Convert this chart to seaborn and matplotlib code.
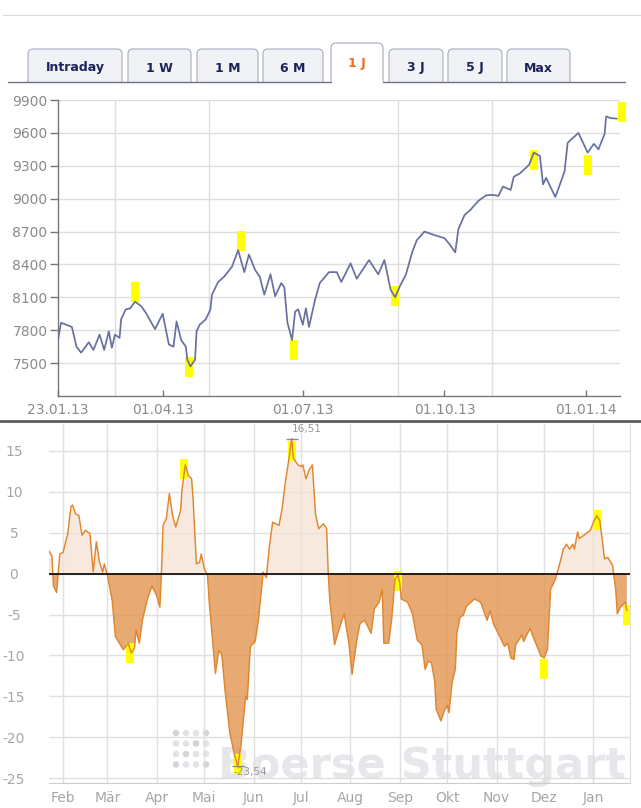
import numpy as np
import pandas as pd
import matplotlib
matplotlib.use("Agg")
import matplotlib.pyplot as plt
import matplotlib.dates as mdates
from matplotlib.patches import FancyBboxPatch, Rectangle
from matplotlib.lines import Line2D
from matplotlib.transforms import IdentityTransform
import seaborn as sns

# ---------------- data ----------------
tab_labels = ["Intraday", "1 W", "1 M", "6 M", "1 J", "3 J", "5 J", "Max"]
active_tab = "1 J"

price_dates = ["2013-01-23","2013-01-25","2013-02-01","2013-02-04","2013-02-07","2013-02-12","2013-02-15","2013-02-19","2013-02-22","2013-02-25",
               "2013-02-27","2013-03-01","2013-03-04","2013-03-05","2013-03-08","2013-03-11","2013-03-14","2013-03-18","2013-03-21","2013-03-27",
               "2013-04-01","2013-04-05","2013-04-08","2013-04-10","2013-04-13","2013-04-16","2013-04-17","2013-04-19","2013-04-22","2013-04-23",
               "2013-04-25","2013-04-29","2013-05-02","2013-05-03","2013-05-07","2013-05-11","2013-05-16","2013-05-20","2013-05-24","2013-05-27",
               "2013-05-31","2013-06-03","2013-06-06","2013-06-10","2013-06-13","2013-06-17","2013-06-19","2013-06-21","2013-06-24","2013-06-26",
               "2013-06-28","2013-07-01","2013-07-03","2013-07-05","2013-07-09","2013-07-12","2013-07-18","2013-07-23","2013-07-26","2013-08-01",
               "2013-08-05","2013-08-13","2013-08-19","2013-08-23","2013-08-27","2013-08-30","2013-09-02","2013-09-06","2013-09-10","2013-09-13",
               "2013-09-18","2013-09-24","2013-10-01","2013-10-04","2013-10-08","2013-10-10","2013-10-14","2013-10-18","2013-10-23","2013-10-28",
               "2013-11-01","2013-11-05","2013-11-08","2013-11-13","2013-11-15","2013-11-19","2013-11-25","2013-11-28","2013-12-02","2013-12-04",
               "2013-12-06","2013-12-12","2013-12-16","2013-12-18","2013-12-20","2013-12-27","2014-01-02","2014-01-06","2014-01-09","2014-01-13",
               "2014-01-14","2014-01-17","2014-01-21"]
price_values = [7714, 7868, 7830, 7650, 7595, 7690, 7620, 7760, 7620, 7790,
                7640, 7760, 7730, 7900, 7990, 8000, 8060, 8020, 7960, 7810,
                7950, 7670, 7650, 7880, 7710, 7650, 7530, 7470, 7530, 7790,
                7850, 7900, 7990, 8125, 8240, 8290, 8380, 8530, 8330, 8490,
                8350, 8290, 8125, 8310, 8110, 8230, 8190, 7870, 7710, 7970,
                7990, 7850, 8000, 7830, 8080, 8230, 8330, 8330, 8240, 8410,
                8270, 8440, 8310, 8440, 8170, 8100, 8200, 8310, 8510, 8620,
                8700, 8670, 8640, 8590, 8510, 8720, 8850, 8900, 8980, 9030,
                9035, 9025, 9110, 9080, 9200, 9230, 9310, 9420, 9390, 9130,
                9190, 9015, 9170, 9250, 9510, 9600, 9420, 9500, 9450, 9590,
                9750, 9735, 9730]
price_signal_dates = ["2013-03-14", "2013-04-18", "2013-05-22", "2013-06-25",
                      "2013-08-30", "2013-11-28", "2014-01-02", "2014-01-24"]
price_signal_values = [8150, 7460, 8610, 7620, 8110, 9350, 9310, 9790]
price_yticks = [7500, 7800, 8100, 8400, 8700, 9000, 9300, 9600, 9900]
price_xtick_dates = ["2013-01-23", "2013-04-01", "2013-07-01", "2013-10-01", "2014-01-01"]
price_xtick_labels = ["23.01.13", "01.04.13", "01.07.13", "01.10.13", "01.01.14"]
price_grid_dates = ["2013-03-01", "2013-05-01", "2013-07-01", "2013-09-01", "2013-11-01", "2014-01-01"]

osc_start = "2013-01-23"
osc_day = [0, 2, 3, 5, 7, 9, 12, 14, 15, 17,
           19, 21, 23, 26, 28, 30, 32, 34, 35, 37,
           40, 42, 47, 50, 52, 54, 55, 57, 59, 62,
           65, 68, 70, 71, 72, 74, 76, 78, 80, 83,
           84, 86, 88, 90, 91, 93, 95, 96, 98, 100,
           101, 103, 105, 107, 109, 111, 114, 117, 119, 121,
           124, 125, 127, 130, 132, 134, 135, 137, 139, 141,
           145, 147, 149, 151, 153, 154, 157, 159, 160, 162,
           164, 166, 168, 170, 173, 175, 176, 177, 180, 182,
           186, 189, 191, 194, 196, 199, 203, 205, 208, 210,
           211, 214, 216, 218, 220, 221, 222, 226, 229, 232,
           235, 237, 239, 241, 243, 244, 247, 249, 251, 252,
           254, 256, 257, 259, 261, 263, 268, 272, 274, 276,
           278, 280, 283, 287, 289, 291, 293, 294, 296, 298,
           299, 303, 305, 310, 312, 314, 315, 316, 319, 322,
           324, 326, 328, 330, 331, 333, 334, 337, 341, 343,
           345, 347, 350, 352, 355, 357, 358, 360, 363, 364]
osc_val = [2.8, 2.2, -1.5, -2.3, 2.4, 2.6, 4.9, 8.2, 8.4, 7.3,
           7.1, 4.7, 5.3, 4.9, 0.2, 3.9, 1.4, 0.2, 1.2, -0.2,
           -3.3, -7.7, -9.3, -8.5, -9.7, -9.1, -6.9, -8.5, -5.7, -3.2,
           -1.5, -2.7, -4.1, 0.2, 5.9, 6.7, 9.8, 7.1, 5.7, 7.7,
           10.4, 13.3, 12.0, 11.6, 8.8, 1.2, 1.4, 2.4, 0.6, -0.2,
           -3.3, -7.7, -12.2, -9.4, -9.9, -14.2, -19.4, -22.2, -23.54, -21.1,
           -15.0, -15.4, -8.9, -8.3, -5.7, -1.9, 0.2, -0.5, 3.4, 6.3,
           5.9, 8.0, 11.2, 13.7, 16.51, 14.1, 13.3, 13.1, 13.3, 11.6,
           12.7, 13.3, 7.3, 5.5, 6.1, 5.5, 0.1, -3.3, -8.7, -7.3,
           -4.9, -8.5, -12.3, -8.1, -6.1, -5.7, -7.3, -4.3, -3.5, -1.9,
           -8.5, -8.5, -5.5, -0.7, -0.2, -1.1, -3.1, -3.5, -4.9, -8.1,
           -8.7, -11.7, -10.7, -10.9, -13.1, -16.6, -18.0, -16.8, -16.1, -17.0,
           -13.3, -11.7, -7.3, -5.3, -5.1, -4.0, -3.1, -3.5, -4.6, -5.7,
           -4.5, -6.1, -7.3, -8.9, -8.5, -10.3, -10.5, -8.7, -8.1, -7.5,
           -8.3, -6.7, -7.7, -10.1, -10.3, -9.3, -5.7, -1.9, -0.7, 1.4,
           3.0, 3.6, 3.0, 3.6, 3.0, 5.1, 4.3, 4.7, 5.3, 6.3,
           7.1, 6.5, 1.8, 2.0, 1.0, -1.9, -4.9, -4.1, -3.5, -4.5]
osc_signal_day = [51, 85, 119, 153, 220, 312, 345, 364]
osc_signal_values = [-9.7, 12.75, -23.25, 15.05, -0.95, -11.65, 6.55, -5.1]
osc_yticks = [-25, -20, -15, -10, -5, 0, 5, 10, 15]
osc_ytick_labels = ["-25", "-20", "-15", "-10", "-5", "0", "5", "10", "15"]
osc_month_dates = ["2013-02-01", "2013-03-01", "2013-04-01", "2013-05-01", "2013-06-01", "2013-07-01",
                   "2013-08-01", "2013-09-01", "2013-10-01", "2013-11-01", "2013-12-01", "2014-01-01"]
osc_month_labels = ["Feb", "Mär", "Apr", "Mai", "Jun", "Jul", "Aug", "Sep", "Okt", "Nov", "Dez", "Jan"]
watermark = "Boerse Stuttgart"

# ---------------- style ----------------
sns.set_style("white")
plt.rcParams['font.family'] = ['DejaVu Sans']

W, H = 641, 808
fig = plt.figure(figsize=(W / 100, H / 100), dpi=100)
fig.patch.set_facecolor("white")


def frame(x0, y0, x1, y1):
    return [x0 / W, 1 - y1 / H, (x1 - x0) / W, (y1 - y0) / H]


def dn(seq):
    return mdates.date2num(pd.to_datetime(seq))


# ---------------- header / tabs ----------------
fig.add_artist(Line2D([3 / W, 1], [1 - 15 / H] * 2, transform=fig.transFigure, color="#d9d9d9", lw=0.8))

tab_left = [28, 128, 197, 263, 331, 389, 448, 507]
tab_right = [122, 191, 258, 323, 383, 443, 502, 570]
base_y = 82
for lab, l, r in zip(tab_labels, tab_left, tab_right):
    act = lab == active_tab
    top = 43 if act else 49
    box = FancyBboxPatch((l, H - base_y - 6), r - l, base_y + 6 - top,
                         boxstyle="round,pad=0,rounding_size=5", transform=IdentityTransform(),
                         facecolor="white" if act else "#f1f2f6", edgecolor="#a6acc0", lw=0.8, zorder=3)
    fig.add_artist(box)
    ty = 63 if act else 68
    fig.text((l + r) / 2 / W, 1 - ty / H, lab, ha="center", va="center", fontsize=9,
             fontweight="bold", color="#f26b21" if act else "#1c2359", zorder=7)
fig.add_artist(Rectangle((0, H - 96), W, 96 - base_y - 1, transform=IdentityTransform(),
                         facecolor="white", edgecolor="none", zorder=4))
ai = tab_labels.index(active_tab)
fig.add_artist(Rectangle((tab_left[ai] + 0.5, H - base_y - 2), tab_right[ai] - tab_left[ai] - 1, 3,
                         transform=IdentityTransform(), facecolor="white", edgecolor="none", zorder=5))
fig.add_artist(Line2D([8 / W, tab_left[ai] / W], [1 - base_y / H] * 2, transform=fig.transFigure,
                      color="#6b7089", lw=1, zorder=6))
fig.add_artist(Line2D([tab_right[ai] / W, 625 / W], [1 - base_y / H] * 2, transform=fig.transFigure,
                      color="#6b7089", lw=1, zorder=6))

# ---------------- upper chart ----------------
ax1 = fig.add_axes(frame(58, 100, 620, 396))
px = dn(price_dates)
sns.lineplot(x=px, y=price_values, ax=ax1, color="#67709f", linewidth=1.25, estimator=None, zorder=3)
rect_v = [(-0.38, -1), (0.38, -1), (0.38, 1), (-0.38, 1)]
ax1.plot(dn(price_signal_dates), price_signal_values, linestyle="none", marker=rect_v, markersize=15,
         color="#ffff00", markeredgewidth=0, zorder=2, clip_on=False)
ax1.set_xlim(dn(["2013-01-23"])[0], dn(["2014-01-23"])[0])
ax1.set_ylim(7200, 9900)
ax1.set_yticks(price_yticks)
ax1.set_yticklabels([str(v) for v in price_yticks])
ax1.set_xticks(dn(price_xtick_dates))
ax1.set_xticklabels(price_xtick_labels)
ax1.set_xticks(dn(price_grid_dates), minor=True)
ax1.grid(True, axis="y", which="major", color="#dedede", lw=1)
ax1.grid(True, axis="x", which="minor", color="#dedede", lw=1)
ax1.grid(False, axis="x", which="major")
ax1.tick_params(axis="y", which="major", direction="out", length=6, width=1, color="#777777",
                pad=1.5, labelsize=10, labelcolor="#8a8a8a", left=True)
ax1.tick_params(axis="x", which="major", direction="in", length=4, width=1, color="#777777",
                pad=5, labelsize=10, labelcolor="#8a8a8a", bottom=True)
ax1.tick_params(axis="x", which="minor", length=0, bottom=False)
for s in ["top", "right"]:
    ax1.spines[s].set_visible(False)
for s in ["left", "bottom"]:
    ax1.spines[s].set_color("#777777")
    ax1.spines[s].set_linewidth(1)
ax1.set_xlabel("")
ax1.set_ylabel("")

# separator
fig.add_artist(Line2D([0, 1], [1 - 421.5 / H] * 2, transform=fig.transFigure, color="#5c5c5c", lw=2, zorder=8))

# ---------------- lower chart ----------------
ax2 = fig.add_axes(frame(48.7, 424, 630, 783))
t0 = pd.Timestamp(osc_start)
ox = mdates.date2num(t0 + pd.to_timedelta(osc_day, unit="D"))
oy = np.array(osc_val)
ax2.fill_between(ox, oy, 0, where=oy >= 0, interpolate=True, color="#f5e0d0", alpha=0.7, lw=0, zorder=1)
ax2.fill_between(ox, oy, 0, where=oy <= 0, interpolate=True, color="#e2954f", alpha=0.8, lw=0, zorder=1)
ax2.plot(mdates.date2num(t0 + pd.to_timedelta(osc_signal_day, unit="D")), osc_signal_values,
         linestyle="none", marker=rect_v, markersize=15, color="#ffff00", markeredgewidth=0,
         zorder=2, clip_on=False)
sns.lineplot(x=ox, y=oy, ax=ax2, color="#e0862f", linewidth=1.05, estimator=None, zorder=4)
ax2.axhline(0, color="#111111", lw=1.3, zorder=5)

imax, imin = int(np.argmax(oy)), int(np.argmin(oy))
ax2.plot([ox[imax]], [oy[imax]], marker="_", markersize=9, color="#8a8a8a", mew=1, zorder=6)
ax2.plot([ox[imin]], [oy[imin]], marker="_", markersize=9, color="#8a8a8a", mew=1, zorder=6)
ax2.annotate(f"{oy[imax]:.2f}".replace(".", ","), (ox[imax], oy[imax]), xytext=(0, 7),
             textcoords="offset points", ha="left", va="center", fontsize=7.5, color="#9a9a9a",
             annotation_clip=False, zorder=6)
ax2.annotate(f"{oy[imin]:.2f}".replace(".", ","), (ox[imin], oy[imin]), xytext=(-3, -4.5),
             textcoords="offset points", ha="left", va="center", fontsize=7.5, color="#9a9a9a",
             annotation_clip=False, zorder=6)

# watermark
ax2.text(218 / W, 1 - 778 / H, watermark, transform=fig.transFigure, fontsize=31, fontweight="bold",
         color="#e6e6eb", ha="left", va="baseline", zorder=0.5)
gx, gy = np.meshgrid(np.arange(4), np.arange(4))
shade = np.where((gx + gy) % 3 == 0, "#d2d2d9", "#e2e2e7").ravel()
ax2.scatter((176 + 10 * gx.ravel()) / W, 1 - (733 + 10.5 * gy.ravel()) / H, s=22, c=shade,
            transform=fig.transFigure, linewidths=0, zorder=0.5)

ax2.set_xlim(dn(["2013-01-23"])[0], dn(["2014-01-24"])[0])
ax2.set_ylim(-25.6, 18.3)
ax2.set_yticks(osc_yticks)
ax2.set_yticklabels(osc_ytick_labels)
ax2.set_xticks(dn(osc_month_dates))
ax2.set_xticklabels(osc_month_labels)
ax2.grid(True, color="#e0e0e0", lw=1)
ax2.set_axisbelow(True)
ax2.tick_params(axis="both", length=0, labelsize=10, labelcolor="#a6a6a6")
ax2.tick_params(axis="x", pad=6)
ax2.tick_params(axis="y", pad=25)
plt.setp(ax2.get_yticklabels(), ha="center")
for s in ["top", "left"]:
    ax2.spines[s].set_visible(False)
ax2.spines["bottom"].set_color("#cccccc")
ax2.spines["right"].set_color("#dddddd")
ax2.set_xlabel("")
ax2.set_ylabel("")

fig.savefig("out.png", dpi=100, facecolor="white")
